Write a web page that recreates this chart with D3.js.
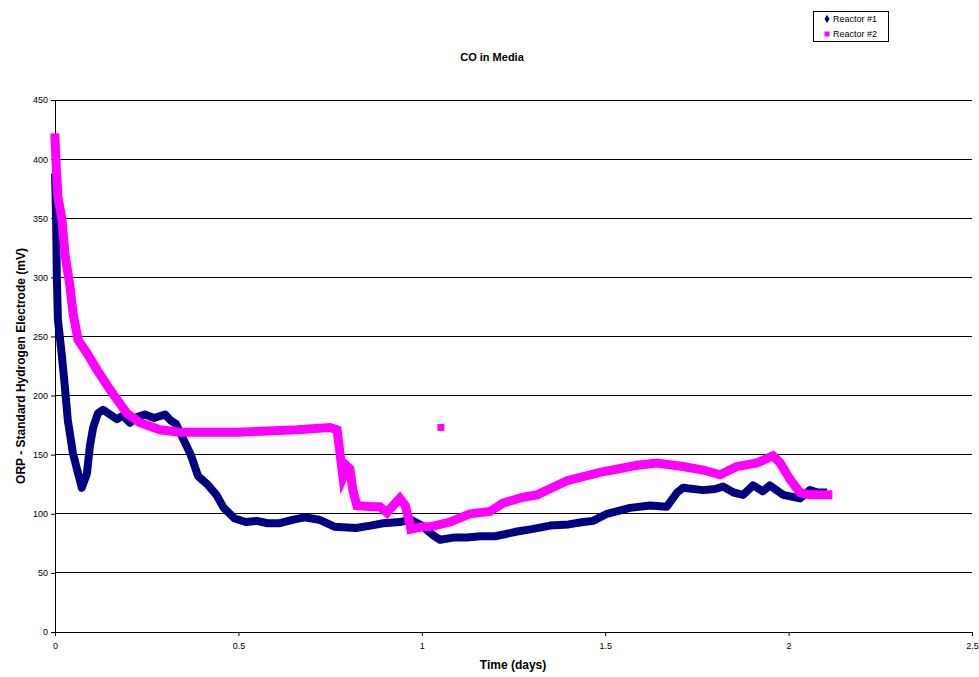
<!DOCTYPE html>
<html>
<head>
<meta charset="utf-8">
<script src="https://cdn.jsdelivr.net/npm/d3@7"></script>
<style>
  body { margin: 0; background: #fff; }
  text { font-family: "Liberation Sans", Arial, sans-serif; }
</style>
</head>
<body>
<div id="container"></div>
<script>
/* CONSTANTS AND GLOBALS */
const width = 979,
  height = 677,
  margin = {top: 100, bottom: 45, left: 55, right: 7};

/* DATA: [days, mV] */
const reactor1 = [
  [0, 388], [0.003, 350], [0.005, 300], [0.008, 264], [0.018, 236], [0.027, 207],
  [0.035, 179], [0.049, 151], [0.063, 134], [0.073, 122], [0.08, 128], [0.087, 134],
  [0.095, 157], [0.104, 173], [0.117, 185], [0.131, 188], [0.15, 184], [0.169, 180],
  [0.185, 183], [0.204, 177], [0.225, 182], [0.245, 184], [0.27, 181], [0.3, 184],
  [0.315, 179], [0.33, 176], [0.35, 163], [0.37, 150], [0.39, 132], [0.415, 125],
  [0.44, 116], [0.46, 105], [0.49, 96], [0.52, 93], [0.55, 94], [0.58, 92],
  [0.613, 92], [0.65, 95], [0.68, 97], [0.72, 95], [0.763, 89], [0.82, 88],
  [0.86, 90], [0.895, 92], [0.94, 93], [0.97, 95], [1.0, 90], [1.03, 82],
  [1.05, 78], [1.09, 80], [1.123, 80], [1.16, 81], [1.2, 81], [1.26, 85],
  [1.3, 87], [1.35, 90], [1.4, 91], [1.44, 93], [1.467, 94], [1.505, 100],
  [1.568, 105], [1.622, 107], [1.668, 106], [1.696, 118], [1.712, 122], [1.767, 120],
  [1.8, 121], [1.821, 123], [1.85, 118], [1.876, 116], [1.903, 124], [1.93, 119],
  [1.949, 124], [1.985, 116], [2.031, 113], [2.058, 120], [2.08, 118], [2.105, 118]
];

const reactor2 = [
  [0, 418], [0.004, 390], [0.008, 368], [0.019, 349], [0.027, 320], [0.041, 292],
  [0.049, 270], [0.063, 247], [0.087, 236], [0.114, 222], [0.15, 205], [0.196, 185],
  [0.232, 177], [0.286, 171], [0.34, 169], [0.42, 169], [0.5, 169], [0.58, 170],
  [0.66, 171], [0.75, 173], [0.769, 171], [0.777, 151], [0.785, 131], [0.797, 140],
  [0.804, 138], [0.812, 120], [0.823, 107], [0.86, 106], [0.886, 106], [0.905, 101],
  [0.925, 108], [0.94, 113], [0.955, 107], [0.965, 95], [0.97, 87], [1.0, 89],
  [1.022, 89], [1.077, 93], [1.131, 100], [1.186, 102], [1.221, 109], [1.276, 114],
  [1.314, 116], [1.396, 128], [1.486, 135], [1.587, 141], [1.641, 143], [1.712, 140],
  [1.767, 137], [1.813, 133], [1.859, 140], [1.914, 143], [1.957, 149], [1.977, 143],
  [2.004, 129], [2.031, 118], [2.058, 116], [2.107, 116]
];

const reactor2Stray = [[1.052, 173]];

const xTicks = [0, 0.5, 1, 1.5, 2, 2.5];
const yTicks = [0, 50, 100, 150, 200, 250, 300, 350, 400, 450];
const seriesNames = ["Reactor #1", "Reactor #2"];
const seriesColors = ["#000080", "#ff00ff"];

// SCALES
const xScale = d3.scaleLinear()
  .domain([0, 2.5])
  .range([margin.left, width - margin.right]);

const yScale = d3.scaleLinear()
  .domain([0, 450])
  .range([height - margin.bottom, margin.top]);

// CREATE SVG ELEMENT
const svg = d3.select("#container").append("svg")
  .attr("width", width)
  .attr("height", height);

// gridlines
svg.append("g")
  .selectAll("line")
  .data(yTicks.filter(d => d > 0))
  .join("line")
  .attr("x1", margin.left)
  .attr("x2", width - margin.right)
  .attr("y1", d => yScale(d))
  .attr("y2", d => yScale(d))
  .attr("stroke", "#000")
  .attr("stroke-width", 1)
  .attr("shape-rendering", "crispEdges");

// AXES
const xAxis = d3.axisBottom(xScale).tickValues(xTicks).tickSize(4).tickFormat(d => d);
const yAxis = d3.axisLeft(yScale).tickValues(yTicks).tickSize(4);

svg.append("g")
  .attr("transform", `translate(0,${height - margin.bottom})`)
  .call(xAxis)
  .call(g => g.selectAll("text").attr("font-size", 9).attr("dy", "1.1em"))
  .call(g => g.select(".domain").attr("shape-rendering", "crispEdges"));

svg.append("g")
  .attr("transform", `translate(${margin.left},0)`)
  .call(yAxis)
  .call(g => g.selectAll("text").attr("font-size", 9))
  .call(g => g.select(".domain").attr("shape-rendering", "crispEdges"));

// LINE GENERATOR FUNCTION
const line = d3.line()
  .x(d => xScale(d[0]))
  .y(d => yScale(d[1]));

// DRAW LINES (dense markers look like a thick band)
svg.append("path")
  .datum(reactor1)
  .attr("d", line)
  .attr("fill", "none")
  .attr("stroke", seriesColors[0])
  .attr("stroke-width", 8)
  .attr("stroke-linejoin", "round");

svg.append("path")
  .datum(reactor2)
  .attr("d", line)
  .attr("fill", "none")
  .attr("stroke", seriesColors[1])
  .attr("stroke-width", 9)
  .attr("stroke-linejoin", "miter")
  .attr("stroke-linecap", "square");

svg.selectAll(".stray")
  .data(reactor2Stray)
  .join("rect")
  .attr("class", "stray")
  .attr("x", d => xScale(d[0]) - 3.5)
  .attr("y", d => yScale(d[1]) - 3.5)
  .attr("width", 7)
  .attr("height", 7)
  .attr("fill", seriesColors[1]);

// TITLES
svg.append("text")
  .attr("x", 492).attr("y", 61)
  .attr("text-anchor", "middle")
  .attr("font-size", 11).attr("font-weight", "bold")
  .text("CO in Media");

svg.append("text")
  .attr("x", 513).attr("y", 669)
  .attr("text-anchor", "middle")
  .attr("font-size", 12).attr("font-weight", "bold")
  .text("Time (days)");

svg.append("text")
  .attr("transform", "translate(25,366) rotate(-90)")
  .attr("text-anchor", "middle")
  .attr("font-size", 12).attr("font-weight", "bold")
  .text("ORP - Standard Hydrogen Electrode (mV)");

// LEGEND
const legend = svg.append("g");
legend.append("rect")
  .attr("x", 813.5).attr("y", 11.5)
  .attr("width", 75).attr("height", 30)
  .attr("fill", "#fff").attr("stroke", "#000");

const items = legend.selectAll(".item")
  .data(seriesNames)
  .join("g")
  .attr("transform", (d, i) => `translate(827,${19 + i * 15})`);

items.filter((d, i) => i === 0).append("path")
  .attr("d", d3.symbol(d3.symbolDiamond, 22))
  .attr("fill", seriesColors[0]);
items.filter((d, i) => i === 1).append("rect")
  .attr("x", -2.5).attr("y", -2.5).attr("width", 5).attr("height", 5)
  .attr("fill", seriesColors[1]);

items.append("text")
  .attr("x", 6).attr("y", 3)
  .attr("font-size", 9)
  .text(d => d);
</script>
</body>
</html>
